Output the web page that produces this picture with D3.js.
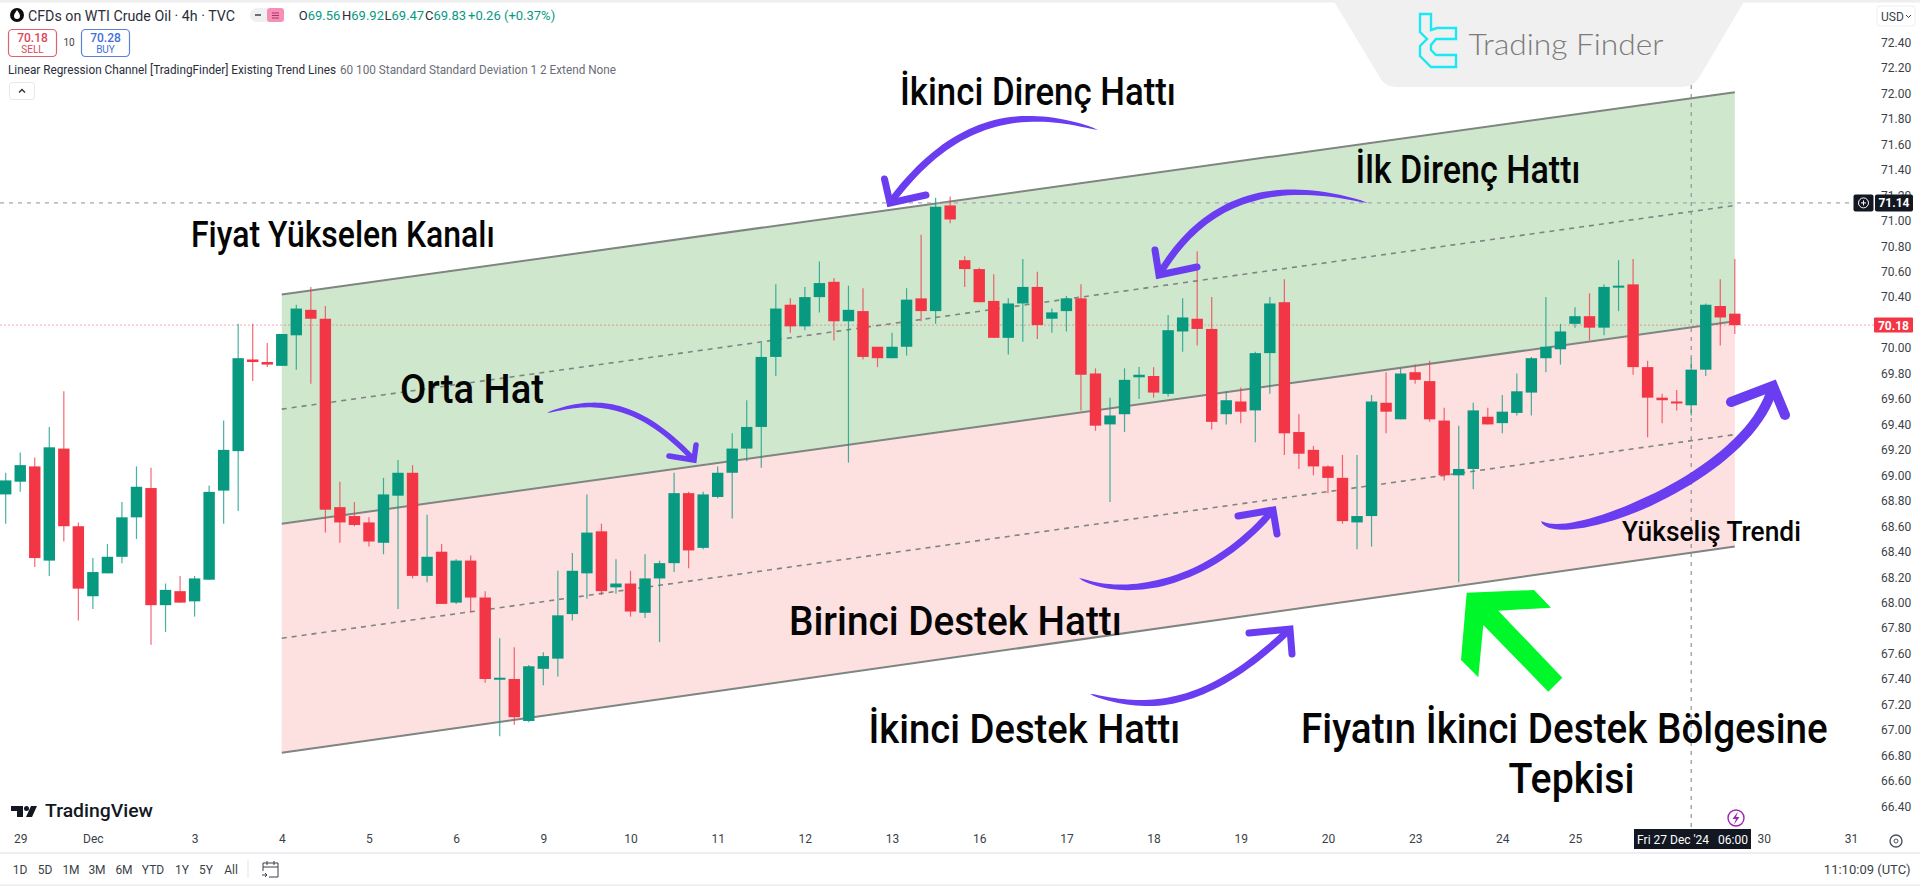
<!DOCTYPE html>
<html>
<head>
<meta charset="utf-8">
<script src="https://cdn.jsdelivr.net/npm/d3@7"></script>
<style>
  html, body { margin: 0; padding: 0; background: #fff; overflow: hidden; }
  text { font-family: Roboto, sans-serif; }
</style>
</head>
<body>
<svg id="chart" width="1920" height="886"></svg>
<script>
// candles, 4h bars, left to right
const opens = [
  68.85,68.95,69.07,68.33,69.21,68.60,68.05,68.23,68.36,68.67,
  68.90,67.98,68.09,68.01,68.18,68.88,69.19,69.91,69.89,69.86,
  70.10,70.30,70.23,68.75,68.68,68.63,68.47,68.84,69.02,68.21,
  68.40,68.00,68.33,68.04,67.40,67.40,67.07,67.48,67.56,67.91,
  68.23,68.56,68.12,68.15,67.92,68.19,68.31,68.86,68.43,68.83,
  69.02,69.21,69.38,69.93,70.34,70.17,70.40,70.52,70.21,70.29,
  70.01,69.92,70.01,70.39,70.29,71.12,70.69,70.62,70.37,70.08,
  70.35,70.48,70.23,70.29,70.39,69.80,69.40,69.48,69.77,69.78,
  69.64,70.13,70.23,70.15,69.48,69.58,69.51,69.96,70.36,69.34,
  69.20,69.07,68.98,68.63,68.68,69.57,69.44,69.81,69.74,69.43,
  69.00,69.05,69.46,69.41,69.49,69.65,69.92,69.99,70.19,70.25,
  70.16,70.48,70.50,69.85,69.61,69.58,69.55,69.83,70.33,70.27];
const highs = [
  69.02,69.18,69.14,69.38,69.66,68.63,68.35,68.46,68.79,69.07,
  69.06,68.15,68.21,68.21,68.92,69.43,70.19,70.19,70.04,70.11,
  70.34,70.48,70.33,68.95,68.79,68.67,68.98,69.12,69.08,68.69,
  68.46,68.34,68.37,68.09,67.72,67.65,67.51,67.61,68.25,68.39,
  68.85,68.62,68.34,68.25,68.38,68.33,69.02,68.87,68.87,69.07,
  69.33,69.59,70.04,70.50,70.39,70.48,70.68,70.55,70.49,70.47,
  70.01,70.12,70.47,70.89,71.18,71.19,70.72,70.63,70.58,70.39,
  70.70,70.60,70.31,70.41,70.50,69.84,69.61,69.84,69.85,69.85,
  70.26,70.39,70.76,70.40,69.66,69.69,69.97,70.40,70.54,69.48,
  69.23,69.08,69.16,69.16,69.63,69.81,69.84,69.87,69.90,69.53,
  69.39,69.57,69.53,69.63,69.80,69.93,70.40,70.19,70.32,70.43,
  70.50,70.69,70.70,69.90,69.64,69.67,69.92,70.35,70.54,70.70];
const lows = [
  68.62,68.87,68.28,68.21,68.48,67.86,67.95,68.23,68.31,68.50,
  67.67,67.77,68.00,67.89,68.18,68.62,68.72,69.74,69.85,69.86,
  69.83,69.72,68.55,68.47,68.60,68.44,68.38,67.95,68.19,68.16,
  67.99,67.99,67.93,67.37,66.95,67.04,67.06,67.35,67.42,67.86,
  68.03,68.06,68.07,67.89,67.88,67.69,68.24,68.27,68.42,68.82,
  68.66,69.11,69.06,69.78,70.12,70.14,70.28,70.06,69.10,69.91,
  69.85,69.92,69.94,70.21,70.19,70.98,70.48,70.36,70.08,69.95,
  70.05,70.07,70.12,70.13,69.51,69.35,68.79,69.34,69.60,69.61,
  69.62,69.97,70.02,69.36,69.40,69.41,69.26,69.64,69.16,69.05,
  69.00,68.86,68.62,68.42,68.44,69.33,69.44,69.72,69.42,68.96,
  68.16,68.89,69.40,69.33,69.47,69.47,69.81,69.87,70.16,70.06,
  70.10,70.29,69.79,69.30,69.41,69.51,69.47,69.78,70.02,70.11];
const closes = [
  68.96,69.08,68.35,69.22,68.60,68.11,68.24,68.36,68.67,68.91,
  67.98,68.10,68.00,68.19,68.87,69.20,69.92,69.89,69.87,70.11,
  70.31,70.23,68.73,68.63,68.61,68.48,68.85,69.02,68.21,68.36,
  67.99,68.33,68.04,67.40,67.41,67.10,67.50,67.58,67.90,68.25,
  68.55,68.09,68.15,67.93,68.19,68.31,68.86,68.41,68.85,69.02,
  69.21,69.38,69.93,70.31,70.17,70.40,70.51,70.21,70.30,69.93,
  69.92,70.01,70.38,70.29,71.11,71.01,70.62,70.36,70.08,70.35,
  70.48,70.18,70.28,70.39,69.79,69.39,69.47,69.75,69.79,69.65,
  70.14,70.24,70.15,69.42,69.59,69.50,69.96,70.35,69.33,69.17,
  69.07,68.98,68.64,68.68,69.58,69.50,69.80,69.75,69.44,69.00,
  69.05,69.51,69.40,69.50,69.66,69.92,70.01,70.13,70.25,70.16,
  70.48,70.49,69.85,69.61,69.59,69.57,69.83,70.34,70.24,70.18];

// regression channel, first and last bar
const channelBars = [19, 119];
const channelTop = [70.42, 72.01];
const channelUpper = [69.52, 71.12];
const channelMean = [68.62, 70.21];
const channelLower = [67.72, 69.32];
const channelBottom = [66.82, 68.44];

const priceTicks = d3.range(0, 31).map(i => +(66.4 + i * 0.2).toFixed(1));
const dateBars = [1, 6, 13, 19, 25, 31, 37, 43, 49, 55, 61, 67, 73, 79, 85, 91, 97, 103, 108, 121, 127];
const dateLabels = ["29", "Dec", "3", "4", "5", "6", "9", "10", "11", "12", "13", "16", "17", "18", "19", "20", "23", "24", "25", "30", "31"];
const rangeLabels = ["1D", "5D", "1M", "3M", "6M", "YTD", "1Y", "5Y", "All"];

const lastPrice = 70.18;
const crossPrice = 71.14;
const crossBar = 116;

const purple = "#6b3df0";
const upColor = "#089981";
const downColor = "#f23645";

let svg = d3.select("#chart");
let xScale = d3.scaleLinear().domain([0, 119]).range([5.7, 1734.8]);
let yScale = d3.scaleLinear().domain([66.4, 72.4]).range([806.3, 42.5]);

// channel fills and lines
let bars = channelBars.map((b, i) => ({ bar: b, top: channelTop[i], mean: channelMean[i], bottom: channelBottom[i] }));
let area = d3.area().x(d => xScale(d.bar));
svg.append("path").attr("fill", "#cfe8cd")
  .attr("d", area.y0(d => yScale(d.mean)).y1(d => yScale(d.top))(bars));
svg.append("path").attr("fill", "#fde0e0")
  .attr("d", area.y0(d => yScale(d.bottom)).y1(d => yScale(d.mean))(bars));

[[channelTop, 2, null], [channelUpper, 1.6, "5 5"], [channelMean, 2, null], [channelLower, 1.6, "5 5"], [channelBottom, 2, null]].forEach(l => {
  svg.append("line")
    .attr("x1", xScale(channelBars[0])).attr("x2", xScale(channelBars[1]))
    .attr("y1", yScale(l[0][0])).attr("y2", yScale(l[0][1]))
    .attr("stroke", "#7f8580").attr("stroke-width", l[1]).attr("stroke-dasharray", l[2]);
});

// last price and crosshair
svg.append("line").attr("x1", 0).attr("x2", 1874).attr("y1", yScale(lastPrice)).attr("y2", yScale(lastPrice))
  .attr("stroke", "#f23645").attr("stroke-opacity", 0.35).attr("stroke-width", 1.2).attr("stroke-dasharray", "2 2");
svg.append("line").attr("x1", 0).attr("x2", 1854).attr("y1", yScale(crossPrice)).attr("y2", yScale(crossPrice))
  .attr("stroke", "#a5a8ae").attr("stroke-width", 1.2).attr("stroke-dasharray", "4 5");
svg.append("line").attr("x1", xScale(crossBar)).attr("x2", xScale(crossBar)).attr("y1", 85).attr("y2", 829)
  .attr("stroke", "#8f9298").attr("stroke-width", 1.2).attr("stroke-dasharray", "4 5");

// candles
let candles = svg.append("g").selectAll("g").data(opens).join("g")
  .attr("fill", (d, i) => closes[i] >= d ? upColor : downColor)
  .attr("stroke", (d, i) => closes[i] >= d ? upColor : downColor);
candles.append("line")
  .attr("x1", (d, i) => xScale(i)).attr("x2", (d, i) => xScale(i))
  .attr("y1", (d, i) => yScale(highs[i])).attr("y2", (d, i) => yScale(lows[i]))
  .attr("stroke-width", 1.2).attr("stroke-opacity", 0.75);
candles.append("rect")
  .attr("x", (d, i) => xScale(i) - 5.7).attr("width", 11.4)
  .attr("y", (d, i) => yScale(Math.max(d, closes[i])))
  .attr("height", (d, i) => Math.max(2, Math.abs(yScale(d) - yScale(closes[i]))))
  .attr("stroke", "none");

// price axis
svg.append("g").attr("transform", "translate(1881,0)")
  .call(d3.axisRight(yScale).tickValues(priceTicks).tickFormat(d3.format(".2f")).tickSize(0).tickPadding(0))
  .call(g => g.select(".domain").remove())
  .selectAll("text").attr("font-size", 12).attr("fill", "#3b3f48").style("font-family", "Roboto, sans-serif");

// time axis
svg.append("g").attr("transform", "translate(0,831)")
  .call(d3.axisBottom(xScale).tickValues(dateBars).tickFormat((d, i) => dateLabels[i]).tickSize(0).tickPadding(3))
  .call(g => g.select(".domain").remove())
  .selectAll("text").attr("font-size", 12).attr("fill", "#3b3f48").style("font-family", "Roboto, sans-serif");

// price tags
svg.append("rect").attr("x", 1853.5).attr("y", yScale(crossPrice) - 8.5).attr("width", 20).attr("height", 17).attr("rx", 2).attr("fill", "#131722");
svg.append("rect").attr("x", 1875).attr("y", yScale(crossPrice) - 8.5).attr("width", 38).attr("height", 17).attr("rx", 2).attr("fill", "#131722");
svg.append("circle").attr("cx", 1863.5).attr("cy", yScale(crossPrice)).attr("r", 5).attr("fill", "none").attr("stroke", "#fff");
svg.append("path").attr("d", `M1861 ${yScale(crossPrice)}h5M1863.5 ${yScale(crossPrice) - 2.5}v5`).attr("stroke", "#fff");
svg.append("text").attr("x", 1894).attr("y", yScale(crossPrice) + 4.5).attr("text-anchor", "middle")
  .attr("font-size", 12).attr("font-weight", 700).attr("fill", "#fff").text(crossPrice.toFixed(2));
svg.append("rect").attr("x", 1874).attr("y", yScale(lastPrice) - 7.5).attr("width", 39).attr("height", 15).attr("rx", 1).attr("fill", downColor);
svg.append("text").attr("x", 1893.5).attr("y", yScale(lastPrice) + 4.5).attr("text-anchor", "middle")
  .attr("font-size", 12).attr("font-weight", 700).attr("fill", "#fff").text(lastPrice.toFixed(2));
svg.append("rect").attr("x", 1877).attr("y", 6).attr("width", 38).attr("height", 20).attr("rx", 3).attr("fill", "#fff").attr("stroke", "#eceef2");
svg.append("text").attr("x", 1881).attr("y", 20.5).attr("font-size", 12).attr("fill", "#3b3f48").text("USD");
svg.append("path").attr("d", "M1906 15l2.5 2.5l2.5 -2.5").attr("fill", "none").attr("stroke", "#3b3f48");

// bottom bars
svg.append("rect").attr("x", 0).attr("y", 0).attr("width", 1920).attr("height", 2.5).attr("fill", "#eeeeee");
svg.append("rect").attr("x", 0).attr("y", 852).attr("width", 1920).attr("height", 2).attr("fill", "#eceef2");
svg.append("rect").attr("x", 0).attr("y", 884.5).attr("width", 1920).attr("height", 1.5).attr("fill", "#eceef2");
svg.append("rect").attr("x", 1634).attr("y", 829).attr("width", 117).attr("height", 20).attr("fill", "#131722");
svg.append("text").attr("x", 1692.5).attr("y", 843.5).attr("text-anchor", "middle").attr("font-size", 12).attr("fill", "#fff")
  .style("white-space", "pre").text("Fri 27 Dec '24   06:00");
svg.append("circle").attr("cx", 1736).attr("cy", 818).attr("r", 8).attr("fill", "#fff").attr("stroke", "#9c27b0").attr("stroke-width", 1.4);
svg.append("path").attr("d", "M1738 811.5L1732.5 819H1736L1734 824.5L1739.5 817H1736Z").attr("fill", "#9c27b0");
svg.append("circle").attr("cx", 1896).attr("cy", 841).attr("r", 6).attr("fill", "none").attr("stroke", "#50535e").attr("stroke-width", 1.4);
svg.append("circle").attr("cx", 1896).attr("cy", 841).attr("r", 2).attr("fill", "none").attr("stroke", "#50535e");
svg.append("text").attr("x", 1910.5).attr("y", 874).attr("text-anchor", "end").attr("font-size", 13).attr("fill", "#3b3f48").text("11:10:09 (UTC)");

let rangeX = [20, 45, 71, 97, 124, 153, 182, 206, 231];
svg.append("g").selectAll("text").data(rangeLabels).join("text")
  .attr("x", (d, i) => rangeX[i]).attr("y", 874).attr("text-anchor", "middle")
  .attr("font-size", 12).attr("fill", "#3b3f48").text(d => d);
svg.append("line").attr("x1", 248).attr("x2", 248).attr("y1", 860).attr("y2", 878).attr("stroke", "#e0e3eb");
svg.append("path").attr("d", "M263 863h15v14h-9M263 863v8M263 867h15M267 861v4M274 861v4M262 875h5l-2 -2M267 875l-2 2")
  .attr("fill", "none").attr("stroke", "#3b3f48");

// TradingView logo
svg.append("path").attr("d", "M11 806h12v11h-6v-6h-6zM31 806h6l-5 11h-6z").attr("fill", "#131722");
svg.append("circle").attr("cx", 26.5).attr("cy", 808.5).attr("r", 2.5).attr("fill", "#131722");
svg.append("text").attr("x", 45).attr("y", 817).attr("font-size", 19).attr("font-weight", 500).attr("fill", "#131722")
  .attr("textLength", 108).attr("lengthAdjust", "spacingAndGlyphs").text("TradingView");

// legend, top left
svg.append("circle").attr("cx", 17).attr("cy", 15).attr("r", 7).attr("fill", "#0c0c0c");
svg.append("path").attr("d", "M17 10c-2 3 -3 4 -3 6a3 3 0 0 0 6 0c0 -2 -1 -3 -3 -6z").attr("fill", "#fff");
svg.append("text").attr("x", 28).attr("y", 21).attr("font-size", 14).attr("fill", "#2a2e39")
  .attr("textLength", 207).attr("lengthAdjust", "spacingAndGlyphs").text("CFDs on WTI Crude Oil · 4h · TVC");
svg.append("rect").attr("x", 250).attr("y", 8).attr("width", 24).attr("height", 14).attr("rx", 7).attr("fill", "#eff0f2");
svg.append("rect").attr("x", 267).attr("y", 8).attr("width", 17).attr("height", 14).attr("rx", 3).attr("fill", "#f590b4");
svg.append("path").attr("d", "M255 15h6").attr("stroke", "#6a6d78").attr("stroke-width", 2);
svg.append("path").attr("d", "M272 13h7M272 15.5h7M272 18h7").attr("stroke", "#b0316a");

[["O", "69.56", 298.8], ["H", "69.92", 342], ["L", "69.47", 384.5], ["C", "69.83", 425], ["", "+0.26 (+0.37%)", 468]].forEach(p => {
  let t = svg.append("text").attr("x", p[2]).attr("y", 20).attr("font-size", 13);
  t.append("tspan").attr("fill", "#2a2e39").text(p[0]);
  t.append("tspan").attr("fill", upColor).text(p[1]);
});

svg.append("rect").attr("x", 8.5).attr("y", 29.5).attr("width", 48).attr("height", 27).attr("rx", 4).attr("fill", "#fff").attr("stroke", "#e2606f").attr("stroke-width", 1.2);
svg.append("rect").attr("x", 81.5).attr("y", 29.5).attr("width", 48).attr("height", 27).attr("rx", 4).attr("fill", "#fff").attr("stroke", "#5b82d8").attr("stroke-width", 1.2);
[[32.5, "70.18", "SELL", "#d9485a"], [105.5, "70.28", "BUY", "#3f6fd8"]].forEach(b => {
  svg.append("text").attr("x", b[0]).attr("y", 42).attr("text-anchor", "middle").attr("font-size", 12).attr("font-weight", 500).attr("fill", b[3]).text(b[1]);
  svg.append("text").attr("x", b[0]).attr("y", 53).attr("text-anchor", "middle").attr("font-size", 10).attr("fill", b[3]).text(b[2]);
});
svg.append("text").attr("x", 69).attr("y", 46).attr("text-anchor", "middle").attr("font-size", 10).attr("fill", "#3b3f48").text("10");

svg.append("text").attr("x", 8).attr("y", 74).attr("font-size", 12).attr("fill", "#2a2e39")
  .attr("textLength", 328).attr("lengthAdjust", "spacingAndGlyphs").text("Linear Regression Channel [TradingFinder] Existing Trend Lines");
svg.append("text").attr("x", 340).attr("y", 74).attr("font-size", 12).attr("fill", "#6a6d78")
  .attr("textLength", 276).attr("lengthAdjust", "spacingAndGlyphs").text("60 100 Standard Standard Deviation 1 2 Extend None");
svg.append("rect").attr("x", 9.5).attr("y", 82.5).attr("width", 25).attr("height", 17).attr("rx", 3).attr("fill", "#fff").attr("stroke", "#e6e7ea");
svg.append("path").attr("d", "M19 92.5l3 -3l3 3").attr("fill", "none").attr("stroke", "#2a2e39").attr("stroke-width", 1.4);

// Trading Finder badge
svg.append("path").attr("d", "M1333 0H1745L1700 76Q1694 87 1682 87H1396Q1384 87 1379 76Z").attr("fill", "#f0f0f0");
svg.append("path").attr("d", "M1420 14H1431V30L1437 28H1456V39H1436L1431 45V50L1436 55H1456V67H1431L1420 56V46L1427 39L1420 32Z")
  .attr("fill", "none").attr("stroke", "#1be8f0").attr("stroke-width", 2.4);
svg.append("text").attr("x", 1468.5).attr("y", 55).attr("font-size", 29).attr("font-weight", 300).attr("fill", "#7b7b7b")
  .style("font-family", "Lato, sans-serif").attr("textLength", 195).attr("lengthAdjust", "spacingAndGlyphs").text("Trading Finder");

// hand drawn arrows, through points then head barbs
let curveAt = function (p, t) {
  let c1 = [0, 1].map(k => (-5 * p[0][k] + 18 * p[1][k] - 9 * p[2][k] + 2 * p[3][k]) / 6);
  let c2 = [0, 1].map(k => (2 * p[0][k] - 9 * p[1][k] + 18 * p[2][k] - 5 * p[3][k]) / 6);
  let u = 1 - t;
  return [0, 1].map(k => u * u * u * p[0][k] + 3 * u * u * t * c1[k] + 3 * u * t * t * c2[k] + t * t * t * p[3][k]);
};
let drawArrow = function (p, barbA, barbB, w) {
  let pts = d3.range(0, 41).map(i => curveAt(p, i / 40));
  let left = [], right = [];
  pts.forEach((q, i) => {
    let a = pts[Math.max(i - 1, 0)], b = pts[Math.min(i + 1, 40)];
    let len = Math.hypot(b[0] - a[0], b[1] - a[1]);
    let half = w / 2 * Math.min(1, Math.pow(i / 40, 0.5) * 1.5);
    let nx = -(b[1] - a[1]) / len * half, ny = (b[0] - a[0]) / len * half;
    left.push([q[0] + nx, q[1] + ny]);
    right.unshift([q[0] - nx, q[1] - ny]);
  });
  svg.append("path").attr("d", d3.line()(left.concat(right)) + "Z").attr("fill", purple);
  svg.append("path").attr("d", d3.line()([barbA, p[3], barbB]))
    .attr("fill", "none").attr("stroke", purple).attr("stroke-width", w)
    .attr("stroke-linejoin", "miter").attr("stroke-linecap", "round");
};
drawArrow([[1098, 130], [1025, 119], [956, 140], [890, 203]], [884.5, 179], [926, 195], 7);
drawArrow([[1368, 203], [1280, 193], [1211, 217], [1159, 275]], [1155, 250], [1197, 267], 7);
drawArrow([[547, 413], [592, 405], [640, 417], [694, 460]], [696, 445], [669, 456], 5.5);
drawArrow([[1079, 578], [1134, 587], [1203, 567], [1273, 510]], [1238, 516], [1277, 534], 7);
drawArrow([[1090, 694], [1146, 703], [1211, 687], [1290, 629]], [1249, 633], [1292, 654], 7);
drawArrow([[1541, 521], [1606, 518], [1708, 467], [1773, 386]], [1731, 402], [1785, 415], 10);

svg.append("path").attr("d", "M1466.7 592.7L1534 590L1551 607.7L1498.3 610.7L1562.3 677.7L1548.3 691.7L1483.3 625L1478.3 677.3L1461 660Z").attr("fill", "#00f72a");

// annotation labels, squeezed sideways to the width in the picture
let labels = [
  ["Fiyat Yükselen Kanalı", 191, 247, 304, 36],
  ["Orta Hat", 400, 403, 144, 41],
  ["İkinci Direnç Hattı", 900, 105, 276, 38],
  ["İlk Direnç Hattı", 1355.5, 182.7, 225, 39],
  ["Birinci Destek Hattı", 789, 635, 333, 40],
  ["İkinci Destek Hattı", 868.5, 743, 312, 40],
  ["Fiyatın İkinci Destek Bölgesine", 1301, 743, 527, 43],
  ["Tepkisi", 1508.5, 792.7, 126, 43],
  ["Yükseliş Trendi", 1622, 541, 179, 28]
];
svg.append("g").selectAll("text").data(labels).join("text")
  .attr("font-size", d => d[4]).attr("font-weight", 500).attr("fill", "#050505")
  .text(d => d[0])
  .attr("transform", function (d) {
    return `translate(${d[1]},${d[2]}) scale(${d[3] / this.getComputedTextLength()},1)`;
  });
</script>
</body>
</html>
